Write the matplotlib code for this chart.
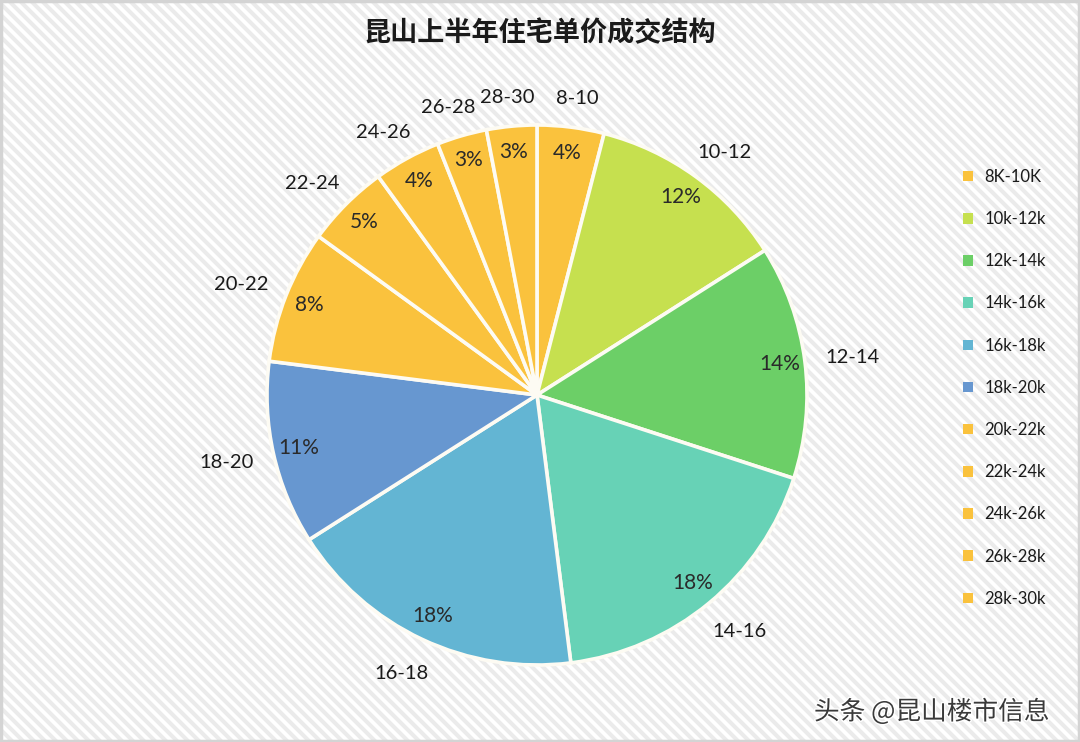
import matplotlib.pyplot as plt
import numpy as np
from matplotlib.collections import LineCollection
import matplotlib.patheffects as pe

plt.rcParams['font.family'] = ['Lato', 'Noto Sans CJK SC', 'DejaVu Sans']

# data
ranges = ["8-10", "10-12", "12-14", "14-16", "16-18", "18-20",
          "20-22", "22-24", "24-26", "26-28", "28-30"]
legend_labels = ["8K-10K", "10k-12k", "12k-14k", "14k-16k", "16k-18k", "18k-20k",
                 "20k-22k", "22k-24k", "24k-26k", "26k-28k", "28k-30k"]
shares = [4, 12, 14, 18, 18, 11, 8, 5, 4, 3, 3]
colors = ["#FAC23D", "#C6E04F", "#6CCF67", "#67D2B6", "#63B5D3", "#6797D0",
          "#FAC23D", "#FAC23D", "#FAC23D", "#FAC23D", "#FAC23D"]

W, H = 1080, 742
fig = plt.figure(figsize=(W / 100, H / 100), dpi=100)
ax = fig.add_axes([0, 0, 1, 1])

# striped background
segs = []
for c in range(-20, W + H + 20, 11):
    segs.append([(0, c), (c, 0)])
lc = LineCollection(segs, colors='#ebebeb', linewidths=2.9, zorder=0)
ax.add_collection(lc)
ax.add_patch(plt.Rectangle((1, 1), W - 2, H - 2, fill=False, edgecolor='#d4d4d4',
                           linewidth=2.5, zorder=1))

cx, cy, R = 537, 347, 270
wedges, _ = ax.pie(shares, colors=colors, startangle=90, counterclock=False,
                   center=(cx, cy), radius=R, frame=True,
                   wedgeprops=dict(edgecolor='#fdfbf3', linewidth=2.6))
ax.set_xlim(0, W)
ax.set_ylim(0, H)
ax.set_aspect('equal')
ax.axis('off')

for w, lab, s in zip(wedges, ranges, shares):
    ang = np.deg2rad((w.theta1 + w.theta2) / 2)
    ca, sa = np.cos(ang), np.sin(ang)
    dy = 5 * sa if sa > 0 else 13 * sa
    ax.text(cx + R * 1.09 * ca + 24 * ca, cy + R * 1.09 * sa + dy, lab,
            ha='center', va='center', fontsize=14.5, color='#1a1a1a', zorder=5)
    ax.text(cx + R * 0.905 * ca, cy + R * 0.905 * sa, f"{s}%",
            ha='center', va='center', fontsize=15, color='#2a2a2a', zorder=5)

ax.text(540, 709, "昆山上半年住宅单价成交结构", ha='center', va='center',
        fontsize=19.5, fontweight='bold', color='#1a1a1a',
        family=['Noto Sans CJK SC', 'DejaVu Sans'])

leg = ax.legend(wedges, legend_labels, loc='upper left',
                bbox_to_anchor=(948 / W, 1 - 154 / H), frameon=False,
                fontsize=12, handlelength=0.6, handleheight=0.6,
                handletextpad=0.7, labelspacing=1.57)
for t in leg.get_texts():
    t.set_color('#1a1a1a')
for h in leg.legend_handles:
    h.set_edgecolor('none')

ax.text(932, 30, "头条 @昆山楼市信息", ha='center', va='center', fontsize=18.5,
        color='#3a3a3a', family=['Noto Sans CJK SC', 'DejaVu Sans'],
        path_effects=[pe.withStroke(linewidth=2, foreground='white')], zorder=6)

fig.savefig("out.png", dpi=100)
